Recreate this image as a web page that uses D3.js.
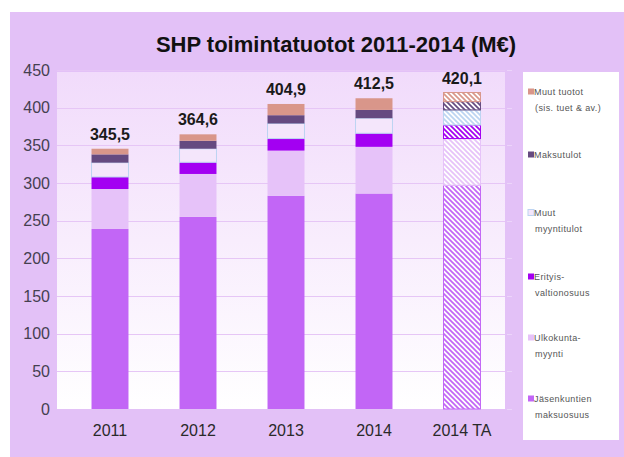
<!DOCTYPE html>
<html>
<head>
<meta charset="utf-8">
<script src="https://cdn.jsdelivr.net/npm/d3@7"></script>
<style>
  body { margin: 0; background: #fff; }
  text { font-family: "Liberation Sans", Arial, sans-serif; }
</style>
</head>
<body>
<svg width="624" height="457"></svg>
<script>
var years = ["2011", "2012", "2013", "2014", "2014 TA"];
var totals = ["345,5", "364,6", "404,9", "412,5", "420,1"];
var jasen = [239, 255, 283, 286, 297];
var ulko = [53, 57, 60, 62, 62];
var erity = [16, 15.5, 16, 18, 18];
var muutMyynti = [19, 18, 20, 20, 20];
var maksu = [11, 10.5, 11, 11, 11];
var muutTuotot = [7.5, 8.6, 14.9, 15.5, 12.1];
var yTicks = [0, 50, 100, 150, 200, 250, 300, 350, 400, 450];

var series = [
  {key: "jasen", values: jasen, fill: "#c266f6", stroke: "none", label: ["Jäsenkuntien", "maksuosuus"]},
  {key: "ulko", values: ulko, fill: "#e6c2f9", stroke: "none", label: ["Ulkokunta-", "myynti"]},
  {key: "erity", values: erity, fill: "#a300f2", stroke: "none", label: ["Erityis-", "valtionosuus"]},
  {key: "muutmyynti", values: muutMyynti, fill: "#f4e6fb", stroke: "#bcd4f2", label: ["Muut", "myyntitulot"]},
  {key: "maksu", values: maksu, fill: "#654a80", stroke: "none", label: ["Maksutulot"]},
  {key: "muuttuotot", values: muutTuotot, fill: "#d9968a", stroke: "none", label: ["Muut tuotot", "(sis. tuet & av.)"]}
];

var svg = d3.select("svg");

// outer background
svg.append("rect").attr("x", 10).attr("y", 12).attr("width", 614).attr("height", 445).attr("fill", "#e3c1f7");

var defs = svg.append("defs");
var grad = defs.append("linearGradient").attr("id", "plotbg").attr("x1", 0).attr("y1", 0).attr("x2", 0).attr("y2", 1);
grad.append("stop").attr("offset", "0%").attr("stop-color", "#f1dbfb");
grad.append("stop").attr("offset", "100%").attr("stop-color", "#ffffff");

series.forEach(function(s) {
  var p = defs.append("pattern").attr("id", "hatch-" + s.key)
      .attr("patternUnits", "userSpaceOnUse").attr("width", 5).attr("height", 5);
  p.append("rect").attr("width", 5).attr("height", 5).attr("fill", "#fff");
  p.append("path").attr("d", "M0,0L5,5M-2.5,2.5L2.5,7.5M2.5,-2.5L7.5,2.5")
      .attr("stroke", s.stroke != "none" ? s.stroke : s.fill).attr("stroke-width", 1.7);
});

var plot = {left: 57, right: 505, top: 72, bottom: 409};

var x = d3.scaleBand().domain(years).range([66, 506]).paddingInner(0.58).paddingOuter(0.29);
var y = d3.scaleLinear().domain([0, 450]).range([plot.bottom, 70]);

svg.append("rect").attr("x", plot.left).attr("y", plot.top)
    .attr("width", plot.right - plot.left).attr("height", plot.bottom - plot.top)
    .attr("fill", "url(#plotbg)");

// gridlines
svg.selectAll(".grid").data(yTicks.filter(function(d) { return d > 0; }))
  .enter().append("line")
    .attr("x1", plot.left).attr("x2", plot.right)
    .attr("y1", function(d) { return Math.round(y(d)) + 0.5; })
    .attr("y2", function(d) { return Math.round(y(d)) + 0.5; })
    .attr("stroke", "#e6c6f6").attr("stroke-width", 1.2);

// faint ticks on the right
svg.selectAll(".rtick").data(yTicks)
  .enter().append("line")
    .attr("x1", 507).attr("x2", 512)
    .attr("y1", function(d) { return Math.round(y(d)) + 0.5; })
    .attr("y2", function(d) { return Math.round(y(d)) + 0.5; })
    .attr("stroke", "#ecd4fa").attr("stroke-width", 1);

// y axis labels
var yAxis = svg.append("g").attr("transform", "translate(" + plot.left + ",0)")
    .call(d3.axisLeft(y).tickValues(yTicks).tickSize(0).tickPadding(7));
yAxis.select(".domain").remove();
yAxis.selectAll("text").attr("font-size", 16).attr("fill", "#454050")
    .style("font-family", "Liberation Sans, Arial, sans-serif");

// x axis labels
var xAxis = svg.append("g").attr("transform", "translate(0," + plot.bottom + ")")
    .call(d3.axisBottom(x).tickSize(0).tickPadding(16));
xAxis.select(".domain").remove();
xAxis.selectAll("text").attr("font-size", 16).attr("fill", "#2a2a2a")
    .style("font-family", "Liberation Sans, Arial, sans-serif");

// stacked bars
var rows = years.map(function(yr, i) {
  var r = {year: yr};
  series.forEach(function(s) { r[s.key] = s.values[i]; });
  return r;
});
var stack = d3.stack().keys(series.map(function(s) { return s.key; }));
var layers = stack(rows);

layers.forEach(function(layer, li) {
  var s = series[li];
  svg.append("g").selectAll("rect").data(layer).enter().append("rect")
    .attr("x", function(d) { return x(d.data.year); })
    .attr("width", x.bandwidth())
    .attr("y", function(d) { return y(d[1]); })
    .attr("height", function(d) { return y(d[0]) - y(d[1]); })
    .attr("fill", function(d) { return d.data.year == "2014 TA" ? "url(#hatch-" + s.key + ")" : s.fill; })
    .attr("stroke", function(d) {
      if (d.data.year == "2014 TA") return s.stroke != "none" ? s.stroke : s.fill;
      return s.stroke;
    })
    .attr("stroke-width", 1);
});

// totals above bars
svg.selectAll(".total").data(years).enter().append("text")
    .attr("x", function(d) { return x(d) + x.bandwidth() / 2; })
    .attr("y", function(d, i) {
      var sum = d3.sum(series, function(s) { return s.values[i]; });
      return y(sum) - 9;
    })
    .attr("text-anchor", "middle")
    .attr("font-size", 16).attr("font-weight", "bold").attr("fill", "#1a1a1a")
    .text(function(d, i) { return totals[i]; });

// title
svg.append("text").attr("x", 336).attr("y", 52).attr("text-anchor", "middle")
    .attr("font-size", 22).attr("font-weight", "bold").attr("fill", "#111")
    .text("SHP toimintatuotot 2011-2014 (M€)");

// legend
svg.append("rect").attr("x", 523).attr("y", 72).attr("width", 96).attr("height", 368).attr("fill", "#fff");
var legendY = [402, 341, 280, 216, 158, 95];
series.forEach(function(s, i) {
  var g = svg.append("g").attr("transform", "translate(528," + legendY[i] + ")");
  g.append("rect").attr("x", 0).attr("y", -6.5).attr("width", 6).attr("height", 6)
      .attr("fill", s.fill).attr("stroke", s.stroke != "none" ? s.stroke : null);
  s.label.forEach(function(t, j) {
    g.append("text").attr("x", j == 0 ? 6 : 7).attr("y", j * 16)
        .attr("font-size", 9).attr("letter-spacing", 0.4).attr("fill", "#555").text(t);
  });
});
</script>
</body>
</html>
